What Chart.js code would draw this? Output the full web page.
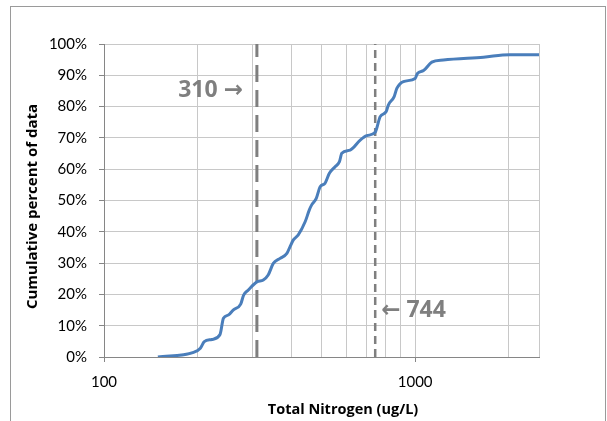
<!DOCTYPE html>
<html>
<head>
<meta charset="utf-8">
<script src="https://cdn.jsdelivr.net/npm/chart.js@4"></script>
<style>
  html, body { margin: 0; padding: 0; background: #fff; }
  #wrap { position: relative; width: 607px; height: 421px; }
</style>
</head>
<body>
<div id="wrap"><canvas id="tnChart" width="607" height="421"></canvas></div>
<script>
// datos
const nitrogen = [149, 194, 204, 210, 222, 236, 242, 251, 260, 275, 281, 291, 310, 325, 337, 350, 368, 387, 396,
  406, 421, 443, 457, 465, 481, 495, 513, 530, 553, 571, 581, 618, 666, 699, 744, 772, 807, 820, 856, 873, 917,
  1000, 1017, 1064, 1131, 1232, 1658, 2010, 2500];
const cumPercent = [0, 1.5, 2.8, 4.9, 5.6, 7.2, 12.4, 13.4, 15, 16.9, 19.8, 21.4, 24, 24.6, 26.2, 29.9, 31.5, 33.1, 35.2,
  37.4, 39, 43.2, 47, 48.6, 50.7, 54.4, 55.5, 58.7, 60.8, 62.4, 65.1, 66.1, 69.3, 70.7, 71.8, 76.8, 78.4, 80.5, 83.2, 85.8, 88,
  89, 90.6, 91.5, 94.2, 94.9, 95.8, 96.6, 96.6];

const xTicks = [100, 200, 300, 400, 500, 600, 700, 800, 900, 1000, 2000, 2500];
const xLabeled = [100, 1000];
const yTicks = [0, 10, 20, 30, 40, 50, 60, 70, 80, 90, 100];

const marks = [310, 744];           // lineas de referencia
const markLabels = ['310 \u2192', '\u2190 744'];
const xTitle = 'Total Nitrogen (ug/L)';
const yTitle = 'Cumulative percent of data';

const FONT = 'Lato, "Open Sans", "DejaVu Sans", sans-serif';
const BOLD = '"Open Sans", "DejaVu Sans", sans-serif';
const GRID = '#c8c8c8';
const AXIS = '#868686';

// Borde exterior, titulos de ejes y anotaciones
const extras = {
    id: 'extras',
    beforeDraw(chart) {
        const ctx = chart.ctx;
        ctx.save();
        ctx.strokeStyle = '#9a9a9a';
        ctx.lineWidth = 1;
        ctx.strokeRect(10.5, 6.5, 595, 430);
        ctx.restore();
    },
    afterDraw(chart) {
        const ctx = chart.ctx;
        const xs = chart.scales.x, ys = chart.scales.y;
        ctx.save();
        ctx.fillStyle = '#000';
        ctx.font = 'bold 14.5px ' + BOLD;
        ctx.textAlign = 'center';
        ctx.textBaseline = 'middle';
        ctx.fillText(xTitle, 343, 410);
        ctx.font = 'bold 15px ' + BOLD;
        ctx.translate(33, (ys.top + ys.bottom) / 2 + 6);
        ctx.rotate(-Math.PI / 2);
        ctx.fillText(yTitle, 0, 0);
        ctx.restore();

        ctx.save();
        ctx.fillStyle = '#7f7f7f';
        ctx.font = 'bold 23px ' + BOLD;
        ctx.textBaseline = 'middle';
        ctx.textAlign = 'right';
        ctx.fillText(markLabels[0], xs.getPixelForValue(marks[0]) - 14, ys.getPixelForValue(85));
        ctx.textAlign = 'left';
        ctx.fillText(markLabels[1], xs.getPixelForValue(marks[1]) + 6, ys.getPixelForValue(14.8));
        ctx.restore();
    }
};

const ctx = document.getElementById('tnChart').getContext('2d');
new Chart(ctx, {
    type: 'line',
    data: {
        datasets: [{
            label: 'Cumulative',
            data: nitrogen.map((v, i) => ({ x: v, y: cumPercent[i] })),
            borderColor: '#4a7ebb',
            borderWidth: 3,
            pointRadius: 0,
            cubicInterpolationMode: 'monotone',
            fill: false
        }, {
            label: '310',
            data: [{ x: marks[0], y: 0 }, { x: marks[0], y: 100 }],
            borderColor: '#7f7f7f',
            borderWidth: 3,
            borderDash: [17, 8],
            pointRadius: 0
        }, {
            label: '744',
            data: [{ x: marks[1], y: 0 }, { x: marks[1], y: 100 }],
            borderColor: '#7f7f7f',
            borderWidth: 2.5,
            borderDash: [8, 5],
            pointRadius: 0
        }]
    },
    options: {
        responsive: false,
        animation: false,
        layout: { padding: { top: 44, right: 68, left: 0, bottom: 0 } },
        plugins: {
            legend: { display: false },
            tooltip: { enabled: false }
        },
        scales: {
            x: {
                type: 'logarithmic',
                min: 100,
                max: 2500,
                afterBuildTicks: (s) => { s.ticks = xTicks.map(v => ({ value: v })); },
                afterFit: (s) => { s.height = 64; },
                ticks: {
                    autoSkip: false,
                    maxRotation: 0,
                    padding: 11,
                    color: '#000',
                    font: { family: FONT, size: 15 },
                    callback: (v) => xLabeled.includes(v) ? String(v) : ''
                },
                grid: {
                    color: GRID,
                    tickLength: 5,
                    tickColor: (c) => (c.tick && xLabeled.includes(c.tick.value)) ? AXIS : 'rgba(0,0,0,0)'
                },
                border: { color: AXIS }
            },
            y: {
                min: 0,
                max: 100,
                afterBuildTicks: (s) => { s.ticks = yTicks.map(v => ({ value: v })); },
                afterFit: (s) => { s.width = 104; },
                ticks: {
                    padding: 12,
                    color: '#000',
                    font: { family: FONT, size: 15 },
                    callback: (v) => v + '%'
                },
                grid: { color: GRID, tickLength: 5, tickColor: AXIS },
                border: { color: AXIS }
            }
        }
    },
    plugins: [extras]
});
</script>
</body>
</html>
